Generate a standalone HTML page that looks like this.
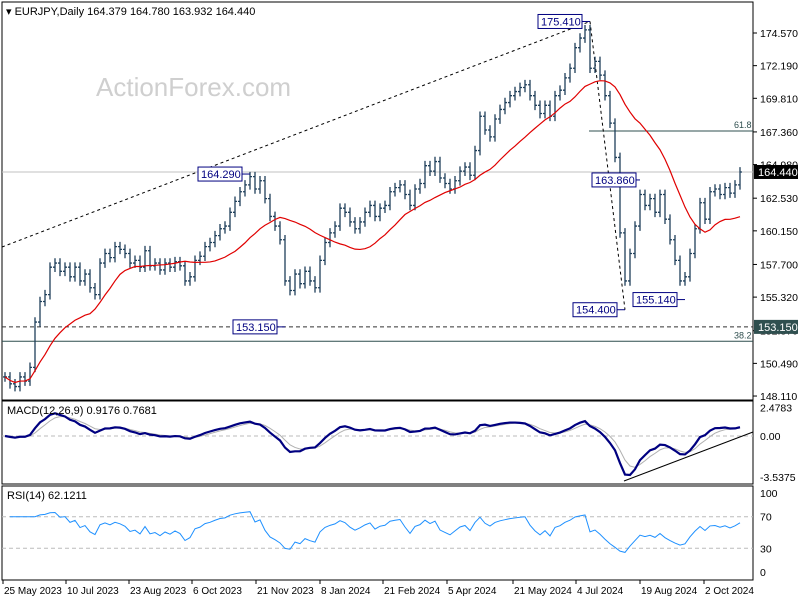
<!DOCTYPE html>
<html><head><meta charset="utf-8"><style>
body{margin:0;background:#fff;}
svg{display:block;font-family:"Liberation Sans",sans-serif;}
</style></head><body>
<svg id="c" width="800" height="600" xmlns="http://www.w3.org/2000/svg"></svg>
<script>
const closes=[149.5,149,148.8,149.5,149.2,150.2,153.5,155,155.5,157.5,157.8,157.2,157.5,156.8,157.5,156.5,157,156,155.5,157.8,158.5,158.2,159,158.8,158.5,157.8,158,157.5,158.7,157.6,157.8,157.3,157.8,157.5,157.9,157.6,156.5,156.8,158,158.3,159,159.3,159.8,160.3,160.5,161.5,162.3,163,163.5,164.1,163.2,163.8,162.5,161.2,160.5,159.5,156.5,155.8,157,156.3,157.2,156.5,156,158,159.3,160,160.5,161.8,161.5,160.8,160.3,160.8,161.5,162,161.2,161.8,162,163,163.3,163.5,162.8,162,163.2,163.6,164.9,164.5,165.2,164,163.6,163.2,163.8,164.5,164.8,164.2,166,168.5,167.5,167,168.3,169,169.5,170,170.3,170.6,170.8,170,169.3,168.7,169.3,168.5,170,170.4,171.3,172,173.5,174.2,174.8,172,172.5,171.5,170,168,165.5,160,156.5,158.5,160.5,162.8,162,162.5,161.5,162.8,161,159.5,158,156.5,156.8,158.5,160.3,162.2,161,163,163.2,162.8,163.3,162.9,163.5,164.44];
const priceTicks=[174.570,172.190,169.810,167.360,164.980,162.530,160.150,157.700,155.320,152.870,150.490,148.110];
const dateLabels=["25 May 2023","10 Jul 2023","23 Aug 2023","6 Oct 2023","21 Nov 2023","8 Jan 2024","21 Feb 2024","5 Apr 2024","21 May 2024","4 Jul 2024","19 Aug 2024","2 Oct 2024"];
const dateIdx=[0,12.6,25.2,37.8,50.6,63.4,76,88.8,102,114.6,127.4,140.2];
const swingLabels=["164.290","153.150","175.410","163.860","154.400","155.140"];
const swingValues=[164.29,153.15,175.41,163.86,154.40,155.14];
const swingIdx=[49,56,117,127,124,136];
const macdTicks=[2.4783,0,-3.5375];
const rsiTicks=[100,70,30,0];

const NS="http://www.w3.org/2000/svg";
const svg=document.getElementById('c');
function el(t,a,p){const e=document.createElementNS(NS,t);for(const k in a)e.setAttribute(k,a[k]);(p||svg).appendChild(e);return e;}
const R=753;
const xAt=i=>5+i*5;
const yP=p=>33+(174.57-p)*13.72;
const yM=v=>436-v*11.6;
const yR=v=>572-v*0.79;

let f1=el('rect',{x:2,y:2,width:R-2,height:398,fill:'none',stroke:'#000'});

let f2=el('rect',{x:2,y:401,width:R-2,height:83,fill:'none',stroke:'#000'});

let f3=el('rect',{x:2,y:486,width:R-2,height:94,fill:'none',stroke:'#000'});


let wm=el('text',{x:96,y:96,'font-size':26,fill:'#cfcfcf'});wm.textContent='ActionForex.com';

let tt=el('text',{x:6,y:15,'font-size':11,fill:'#000'});tt.textContent='▾ EURJPY,Daily  164.379 164.780 163.932 164.440';


priceTicks.forEach(p=>{const y=yP(p);
 el('line',{x1:R,x2:R+4,y1:y,y2:y,stroke:'#000'});
 const t=el('text',{x:760,y:y+4,'font-size':10.5,fill:'#000'});t.textContent=p.toFixed(3);
 });

const last=closes[closes.length-1];
el('line',{x1:2,x2:R,y1:yP(last),y2:yP(last),stroke:'#c0c0c0'});
el('line',{x1:2,x2:R,y1:yP(153.15),y2:yP(153.15),stroke:'#333','stroke-dasharray':'4,3'});
el('line',{x1:2,x2:R,y1:yP(152.1),y2:yP(152.1),stroke:'#2f4f4f'});
el('line',{x1:589,x2:R,y1:yP(167.43),y2:yP(167.43),stroke:'#2f4f4f'});
let l61=el('text',{x:734,y:yP(167.43)-3,'font-size':9,fill:'#2f4f4f'});l61.textContent='61.8';
let l38=el('text',{x:734,y:yP(152.1)-3,'font-size':9,fill:'#2f4f4f'});l38.textContent='38.2';
el('line',{x1:2,y1:247,x2:xAt(117),y2:yP(175.41),stroke:'#000','stroke-dasharray':'3,3'});
el('line',{x1:xAt(117),y1:yP(175.41),x2:xAt(124),y2:yP(154.4),stroke:'#000','stroke-dasharray':'3,3'});

for(let i=0;i<closes.length;i++){
 const o=i?closes[i-1]:closes[i],c=closes[i];
 const hi=Math.max(o,c)+0.35,lo=Math.min(o,c)-0.35;
 const x=xAt(i);
 const b=el('path',{d:`M${x} ${yP(hi)}V${yP(lo)}M${x-2} ${yP(o)}H${x}M${x} ${yP(c)}H${x+2}`,stroke:'#1f3f5a','stroke-width':1.3,fill:'none'});
 
}
const W=18;let ma=[];
for(let i=0;i<closes.length;i++){const s=closes.slice(Math.max(0,i-W+1),i+1);ma.push(s.reduce((a,b)=>a+b,0)/s.length);}
let mp=el('polyline',{points:ma.map((v,i)=>xAt(i)+','+yP(v)).join(' '),fill:'none',stroke:'#e00000','stroke-width':1.2});


swingLabels.forEach((s,k)=>{const y=yP(swingValues[k]);const x=xAt(swingIdx[k]);
 const bx=(k==5)?x-52:(k==3?x-48:x-52);
 const g=el('g',{});
 el('line',{x1:bx+44,x2:x,y1:y,y2:y,stroke:'#000080'},g);
 el('rect',{x:bx,y:y-7,width:44,height:14,fill:'#fff',stroke:'#000080'},g);
 const t=el('text',{x:bx+3,y:y+4,'font-size':11,fill:'#000080'},g);t.textContent=s;});

el('rect',{x:754,y:yP(last)-7,width:44,height:14,fill:'#000'});
let pt=el('text',{x:758,y:yP(last)+4,'font-size':11,fill:'#fff'});pt.textContent=last.toFixed(3);

el('rect',{x:754,y:yP(153.15)-7,width:44,height:14,fill:'#2f4f4f'});
let st=el('text',{x:758,y:yP(153.15)+4,'font-size':11,fill:'#fff'});st.textContent='153.150';

function ema(a,n){const k=2/(n+1);let r=[a[0]];for(let i=1;i<a.length;i++)r.push(a[i]*k+r[i-1]*(1-k));return r;}
const e1=ema(closes,5),e2=ema(closes,10);const macd=e1.map((v,i)=>v-e2[i]);
const sig=ema(macd,4);
el('line',{x1:2,x2:R,y1:yM(0),y2:yM(0),stroke:'#bbb','stroke-dasharray':'4,3'});
let sp=el('polyline',{points:sig.map((v,i)=>xAt(i)+','+yM(v)).join(' '),fill:'none',stroke:'#b0b0b0','stroke-width':1});

let mcp=el('polyline',{points:macd.map((v,i)=>xAt(i)+','+yM(v)).join(' '),fill:'none',stroke:'#000080','stroke-width':2.2});

el('line',{x1:624,y1:481,x2:R,y2:432,stroke:'#000'});
macdTicks.forEach(v=>{const t=el('text',{x:760,y:yM(v)+4,'font-size':10.5,fill:'#000'});t.textContent=v===0?'0.00':v.toFixed(4);});
let mt=el('text',{x:7,y:414,'font-size':11,fill:'#000'});mt.textContent='MACD(12,26,9) 0.9176 0.7681';

let gains=[],loss=[];for(let i=1;i<closes.length;i++){const d=closes[i]-closes[i-1];gains.push(Math.max(d,0));loss.push(Math.max(-d,0));}
const N=6;let ag=gains.slice(0,N).reduce((a,b)=>a+b,0)/N,al=loss.slice(0,N).reduce((a,b)=>a+b,0)/N;let rsi=[];
for(let i=0;i<gains.length;i++){if(i>=N){ag=(ag*(N-1)+gains[i])/N;al=(al*(N-1)+loss[i])/N;}rsi.push(al===0?100:100-100/(1+ag/al));}
[70,30].forEach(v=>el('line',{x1:2,x2:R,y1:yR(v),y2:yR(v),stroke:'#bbb','stroke-dasharray':'4,3'}));
let rp=el('polyline',{points:rsi.map((v,i)=>xAt(i+1)+','+yR(Math.min(85,Math.max(8,50+(v-50)*0.6)))).join(' '),fill:'none',stroke:'#1e90ff','stroke-width':1});

rsiTicks.forEach(v=>{const t=el('text',{x:760,y:yR(v)+4,'font-size':10.5,fill:'#000'});t.textContent=v;});
let rt=el('text',{x:7,y:499,'font-size':11,fill:'#000'});rt.textContent='RSI(14) 62.1211';

dateLabels.forEach((d,k)=>{const x=xAt(dateIdx[k])-2;
 el('line',{x1:x,x2:x,y1:580,y2:584,stroke:'#000'});
 const t=el('text',{x:x+1,y:594,'font-size':10,fill:'#000'});t.textContent=d;
 });
</script>
</body></html>
